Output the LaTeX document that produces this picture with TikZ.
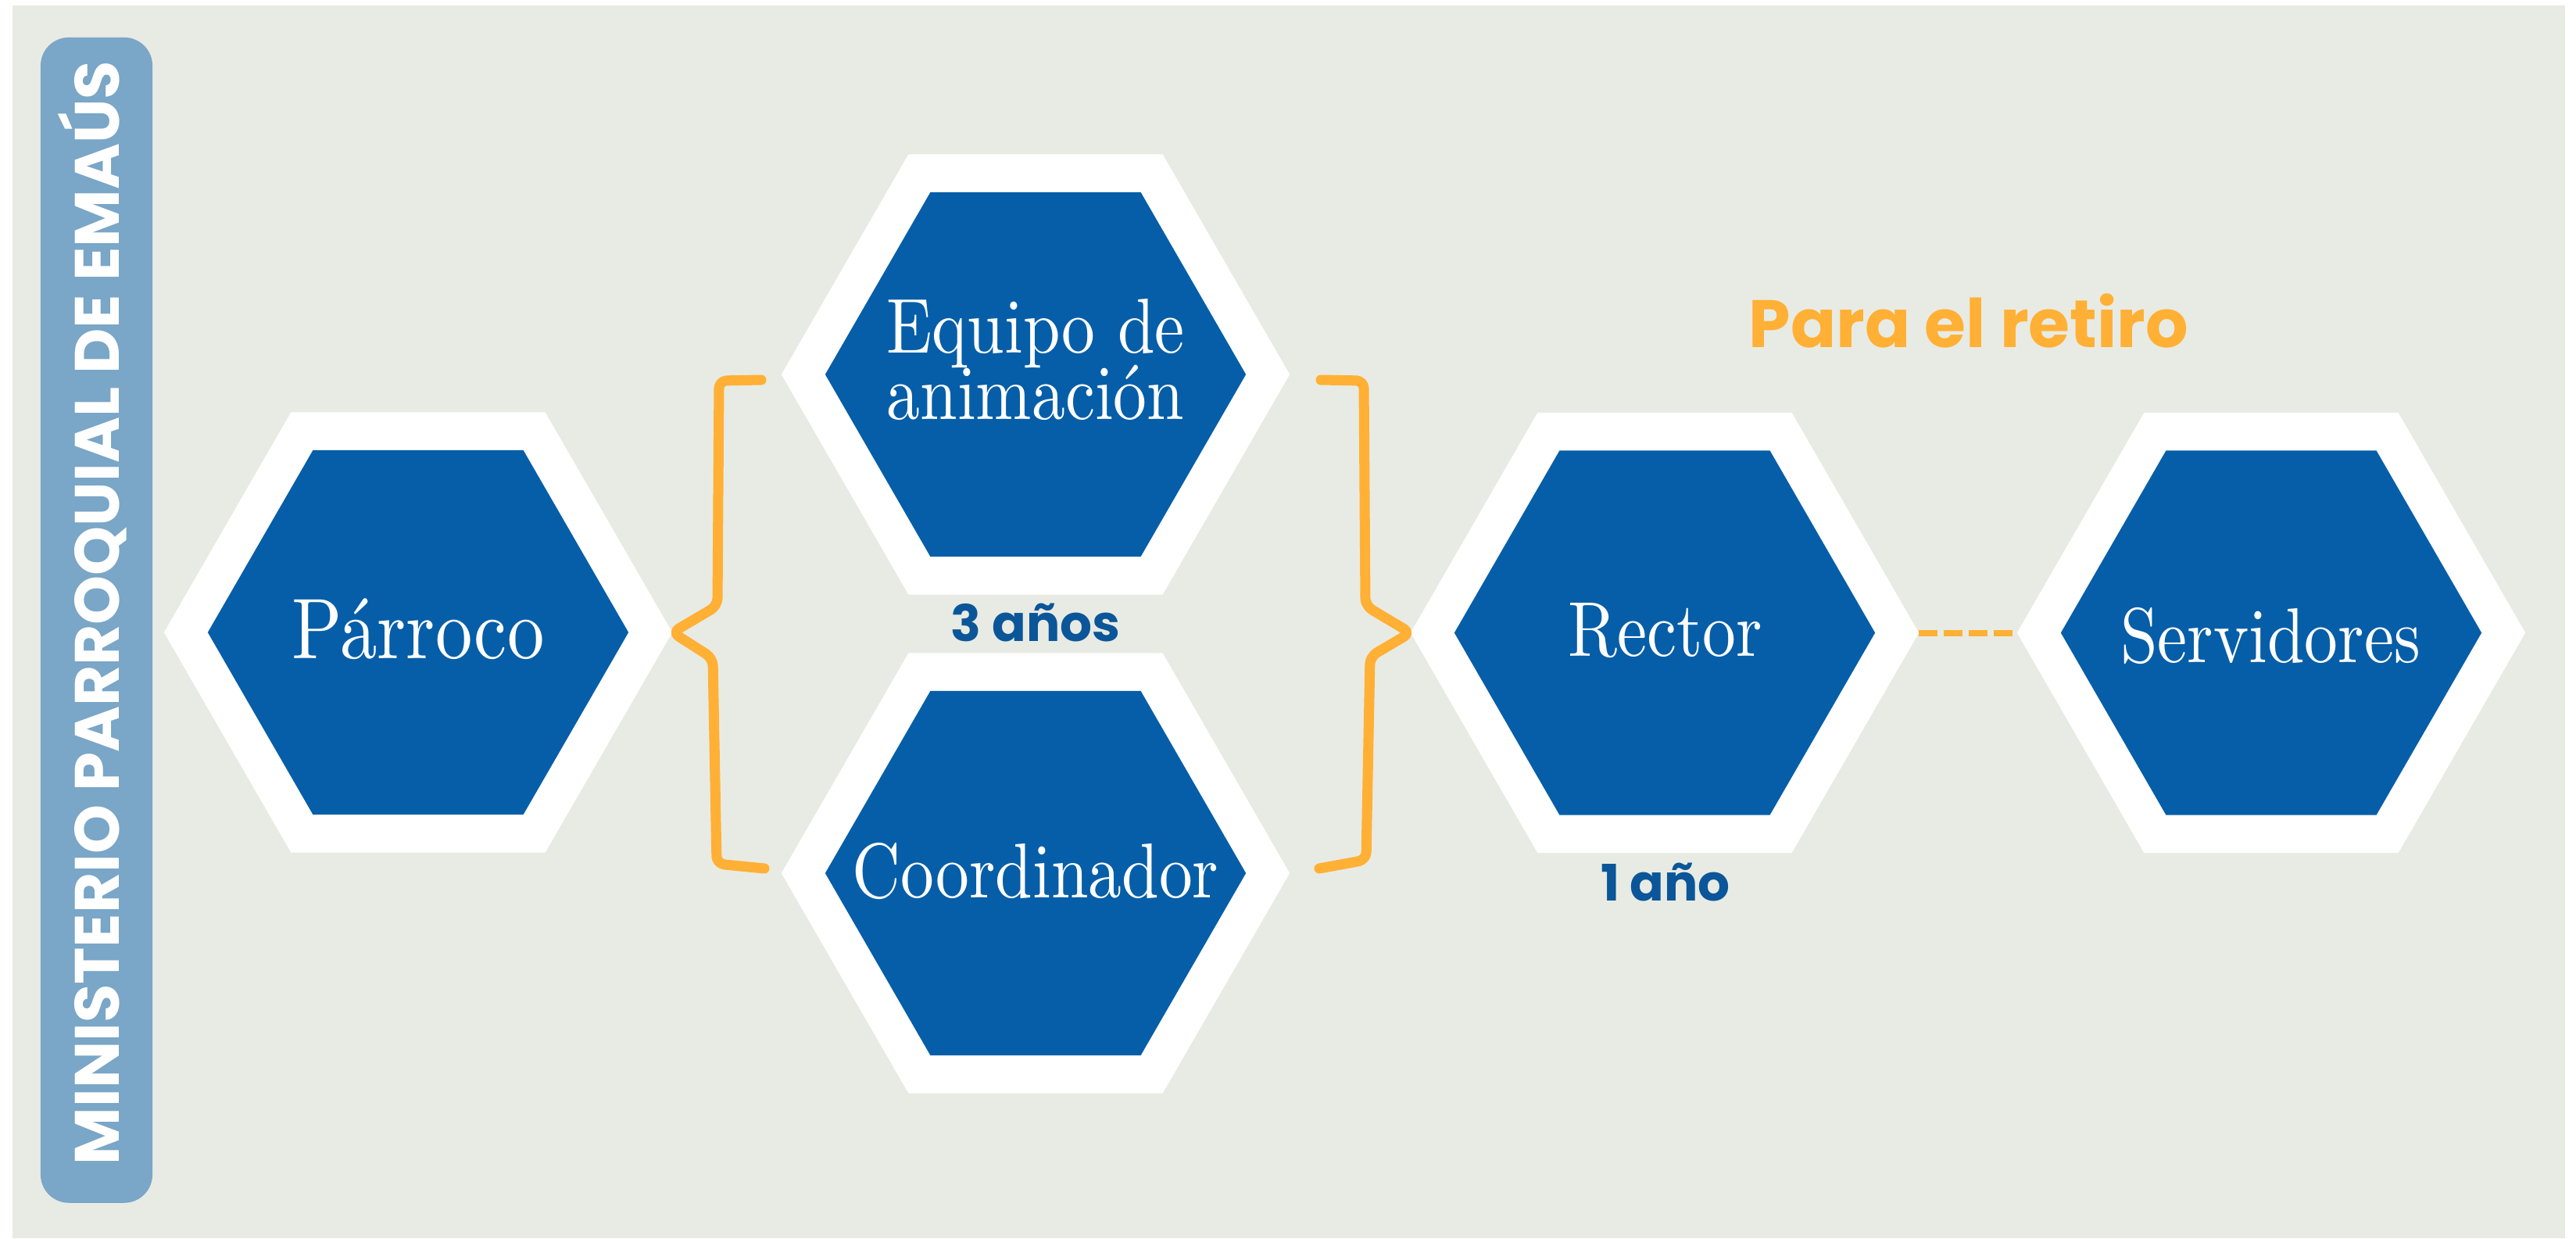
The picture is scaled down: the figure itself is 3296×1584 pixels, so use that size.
\documentclass[tikz,border=0pt]{standalone}
\usepackage{fontspec}
\usetikzlibrary{shapes.geometric}
\newfontfamily\hexfont{lmroman10-regular.otf}[FakeStretch=0.86]
\newfontfamily\pop{Poppins}
\newcommand\tightlines{\lineskiplimit=-1000pt\relax}
\definecolor{bgc}{HTML}{E8EBE3}
\definecolor{sidec}{HTML}{7AA6C7}
\definecolor{hexblue}{HTML}{065EA8}
\definecolor{orange1}{HTML}{FFB035}
\definecolor{yearblue}{HTML}{0B5699}
\begin{document}
\begin{tikzpicture}[x=0.01cm,y=-0.01cm,
  hexout/.style={regular polygon, regular polygon sides=6, minimum size=6.5cm, inner sep=0pt, outer sep=0pt, fill=white},
  hexin/.style={regular polygon, regular polygon sides=6, minimum size=5.38cm, inner sep=0pt, outer sep=0pt, fill=hexblue},
  lbl/.style={text=white, font=\hexfont\fontsize{28.3}{28.3}\selectfont, inner sep=0pt, anchor=base},
  brace/.style={draw=orange1, line width=0.13cm, line cap=round, line join=round, rounded corners=0.1cm},
  dashline/.style={draw=orange1, line width=0.08cm, dash pattern=on 0.24cm off 0.08cm},
  years/.style={text=yearblue, font=\pop\bfseries\fontsize{18.3}{18.3}\selectfont, inner sep=0pt, anchor=base}]
\useasboundingbox (0,0) rectangle (3296,1584);
\fill[white] (0,0) rectangle (3296,1584);
\fill[bgc] (16,7) rectangle (3282,1584);
% sidebar
\node[fill=sidec, rounded corners=0.36cm, minimum width=1.43cm, minimum height=14.9cm, inner sep=0pt, outer sep=0pt] (side) at (123.5,793.3) {};
\node[rotate=90, anchor=base, text=white, font=\pop\bfseries\fontsize{22.8}{22.8}\selectfont, inner sep=0pt] (title) at (152,784) {MINISTERIO PARROQUIAL DE EMAÚS};
% hexagons
\node[hexout] (p) at (535,809) {};
\node[hexin] (pi) at (p) {};
\node[hexout] (e) at (1325,479) {};
\node[hexin] (ei) at (e) {};
\node[hexout] (c) at (1325,1117) {};
\node[hexin] (ci) at (c) {};
\node[hexout] (r) at (2130,809.5) {};
\node[hexin] (ri) at (r) {};
\node[hexout] (s) at (2906,809.5) {};
\node[hexin] (si) at (s) {};
% labels
\node[lbl, font=\hexfont\fontsize{31.3}{31.3}\selectfont] (pl) at (535,842) {Párroco};
\node[lbl, anchor=center, align=center, font={\hexfont\fontsize{28.3}{23.9}\selectfont\tightlines}] (el) at (1325,460) {Equipo de\\animación};
\node[lbl] (cl) at (1325,1148) {Coordinador};
\node[lbl] (rl) at (2131,839) {Rector};
\node[lbl] (sl) at (2905,847) {Servidores};
% brackets
\draw[brace] (974,486) -- (920,487) -- (918,775) -- (p.east) -- (912,842) -- (917,1105) -- (978,1111);
\draw[brace] (1690,486) -- (1745,487) -- (1747,775) -- (r.west) -- (1753,840) -- (1748,1100) -- (1688,1111);
% dashed connector
\draw[dashline] (r.east) -- (s.west);
% texts
\node[text=orange1, font=\pop\bfseries\fontsize{24.4}{24.4}\selectfont, inner sep=0pt, anchor=base] (retiro) at (2519,444) {Para el retiro};
\node[years] (y3) at (1325,820) {3 años};
\node[years] (y1) at (2131,1152) {1 año};
\end{tikzpicture}
\end{document}
